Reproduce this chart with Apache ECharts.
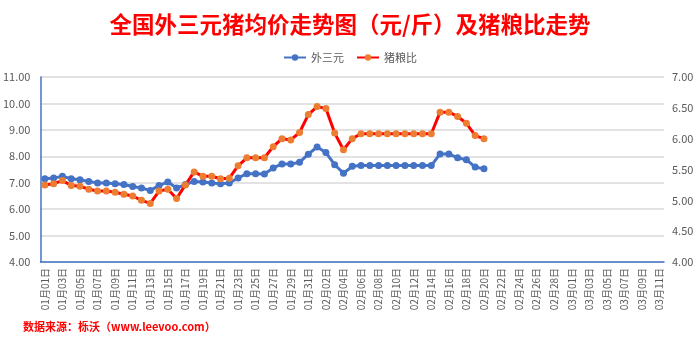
<!DOCTYPE html>
<html><head><meta charset="utf-8">
<script src="https://cdn.jsdelivr.net/npm/echarts@6/dist/echarts.min.js"></script>
<style>html,body{margin:0;padding:0;background:#fff}#c{width:700px;height:342px}</style>
</head><body><div id="c"></div>
<script>
// categories: daily from 01-01 to 03-11 (leap year)
const categories = [];
const monthDays = [[1,31],[2,29],[3,11]];
for (const [m,n] of monthDays) for (let d=1; d<=n; d++) categories.push(String(m).padStart(2,'0')+'月'+String(d).padStart(2,'0')+'日');

const waiSanYuan = [7.15,7.18,7.24,7.15,7.11,7.05,6.99,6.99,6.96,6.93,6.86,6.80,6.71,6.89,7.03,6.80,6.93,7.05,7.03,6.99,6.96,6.99,7.18,7.34,7.34,7.33,7.56,7.71,7.71,7.77,8.08,8.35,8.14,7.68,7.36,7.62,7.65,7.65,7.65,7.65,7.65,7.65,7.65,7.65,7.65,8.09,8.09,7.94,7.87,7.59,7.53];
const zhuLiangBi = [5.25,5.27,5.32,5.24,5.23,5.18,5.15,5.15,5.13,5.10,5.07,5.00,4.95,5.15,5.18,5.03,5.25,5.46,5.39,5.39,5.35,5.36,5.56,5.69,5.69,5.69,5.87,6.00,5.98,6.10,6.39,6.52,6.49,6.09,5.82,6.00,6.08,6.08,6.08,6.08,6.08,6.08,6.08,6.08,6.08,6.43,6.43,6.36,6.25,6.05,6.00];

const leftTicks = {min:4, max:11, interval:1};
const rightTicks = {min:4, max:7, interval:0.5};

const chart = echarts.init(document.getElementById('c'), null, {renderer:'canvas'});
const font = '"Noto Sans CJK SC", "Noto Sans", sans-serif';
chart.setOption({
  animation:false,
  backgroundColor:'#fff',
  title:{text:'全国外三元猪均价走势图（元/斤）及猪粮比走势', left:'center', top:8,
    textStyle:{color:'#FF0000', fontSize:22.5, fontWeight:'bold', fontFamily:font}},
  legend:{top:47, left:'center', itemWidth:22, itemHeight:8, itemGap:12,
    textStyle:{color:'#595959', fontSize:11, fontFamily:font},
    data:[{name:'外三元'},{name:'猪粮比'}]},
  graphic:[{type:'text', left:23, top:321, style:{text:'数据来源：栎沃（www.leevoo.com）', fill:'#FF0000', font:'bold 11px '+font}}],
  grid:{left:40, right:36, top:77, bottom:80, containLabel:false},
  xAxis:{type:'category', data:categories, boundaryGap:true,
    axisLine:{lineStyle:{color:'#4472C4', width:1.5}},
    axisTick:{interval:1, length:4, lineStyle:{color:'#4472C4'}},
    axisLabel:{interval:1, rotate:90, color:'#595959', fontSize:10, fontFamily:font, margin:6}},
  yAxis:[
    {type:'value', min:leftTicks.min, max:leftTicks.max, interval:leftTicks.interval,
     axisLine:{show:true, lineStyle:{color:'#4472C4', width:1.5}}, axisTick:{show:false},
     axisLabel:{formatter:v=>v.toFixed(2), color:'#595959', fontSize:11, fontFamily:font, margin:10},
     splitLine:{lineStyle:{color:'#D9D9D9', width:1.5}}},
    {type:'value', min:rightTicks.min, max:rightTicks.max, interval:rightTicks.interval,
     axisLine:{show:false}, axisTick:{show:false}, splitLine:{show:false},
     axisLabel:{formatter:v=>v.toFixed(2), color:'#595959', fontSize:11, fontFamily:font, margin:8}}
  ],
  series:[
    {name:'外三元', type:'line', yAxisIndex:0, data:waiSanYuan, symbol:'circle', symbolSize:7, showAllSymbol:true,
     lineStyle:{color:'#4472C4', width:3}, itemStyle:{color:'#4472C4'}},
    {name:'猪粮比', type:'line', yAxisIndex:1, data:zhuLiangBi, symbol:'circle', symbolSize:7, showAllSymbol:true,
     lineStyle:{color:'#FF0000', width:3}, itemStyle:{color:'#ED7D31'}}
  ]
});
</script></body></html>
